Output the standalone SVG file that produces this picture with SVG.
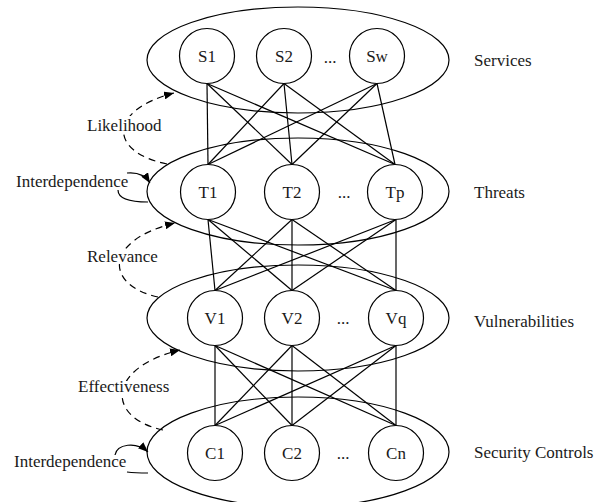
<svg xmlns="http://www.w3.org/2000/svg" width="602" height="502" viewBox="0 0 602 502">
<style>
.grp{fill:none;stroke:#000;stroke-width:1.2}
.node circle{fill:#fff;stroke:#000;stroke-width:1.2}
text{font-family:"Liberation Serif","Times New Roman",serif;font-size:17px;fill:#1a1a1a}
.c{text-anchor:middle}
.halo{stroke:#fff;stroke-width:6;paint-order:stroke;stroke-linejoin:round}
#connectors line{stroke:#000;stroke-width:1.2}
.dash{fill:none;stroke:#000;stroke-width:1.2;stroke-dasharray:7 5}
.solid{fill:none;stroke:#000;stroke-width:1.2}
</style>
<defs>
<marker id="ah" markerUnits="userSpaceOnUse" markerWidth="10" markerHeight="8" refX="10" refY="4" orient="auto">
<path d="M0,0 L10,4 L0,8 z" fill="#000"/>
</marker>
</defs>
<rect width="602" height="502" fill="#fff"/>

<g id="layers">
<ellipse class="grp" cx="298" cy="60" rx="151" ry="53"/>
<ellipse class="grp" cx="298" cy="191.5" rx="151" ry="53.5"/>
<ellipse class="grp" cx="298" cy="318" rx="151" ry="53"/>
<ellipse class="grp" cx="298" cy="452" rx="151" ry="55"/>
</g>

<g id="connectors">
<line x1="207" y1="83.5" x2="208" y2="164.5"/>
<line x1="207" y1="83.5" x2="292" y2="164.5"/>
<line x1="207" y1="83.5" x2="395" y2="164.5"/>
<line x1="284" y1="83.5" x2="208" y2="164.5"/>
<line x1="284" y1="83.5" x2="292" y2="164.5"/>
<line x1="284" y1="83.5" x2="395" y2="164.5"/>
<line x1="377" y1="83.5" x2="208" y2="164.5"/>
<line x1="377" y1="83.5" x2="292" y2="164.5"/>
<line x1="377" y1="83.5" x2="395" y2="164.5"/>

<line x1="208" y1="219.5" x2="215" y2="290.5"/>
<line x1="208" y1="219.5" x2="292" y2="290.5"/>
<line x1="208" y1="219.5" x2="396" y2="290.5"/>
<line x1="292" y1="219.5" x2="215" y2="290.5"/>
<line x1="292" y1="219.5" x2="292" y2="290.5"/>
<line x1="292" y1="219.5" x2="396" y2="290.5"/>
<line x1="396" y1="219.5" x2="215" y2="290.5"/>
<line x1="396" y1="219.5" x2="292" y2="290.5"/>
<line x1="396" y1="219.5" x2="396" y2="290.5"/>

<line x1="215" y1="345.5" x2="215" y2="425.5"/>
<line x1="215" y1="345.5" x2="292" y2="425.5"/>
<line x1="215" y1="345.5" x2="396" y2="425.5"/>
<line x1="292" y1="345.5" x2="215" y2="425.5"/>
<line x1="292" y1="345.5" x2="292" y2="425.5"/>
<line x1="292" y1="345.5" x2="396" y2="425.5"/>
<line x1="396" y1="345.5" x2="215" y2="425.5"/>
<line x1="396" y1="345.5" x2="292" y2="425.5"/>
<line x1="396" y1="345.5" x2="396" y2="425.5"/>

<path class="dash" d="M167,164 C108,152 108,110 174,93" marker-end="url(#ah)"/>
<path class="dash" d="M158,297 C104,285 104,240 175,223" marker-end="url(#ah)"/>
<path class="dash" d="M163,430 C106,418 106,368 180,350" marker-end="url(#ah)"/>
<path class="solid" d="M127,173 C137,172 145,175 150,183" marker-end="url(#ah)"/>
<path class="solid" d="M148,202 C128,202 118,198 118,190"/>
<path class="solid" d="M115,455 C117,444 136,441 148,452" marker-end="url(#ah)"/>
<path class="solid" d="M127,472 C135,473 142,473 148,473"/>
</g>

<g id="S1" class="node"><circle cx="207" cy="56" r="27.5"/><text class="c" x="207" y="62">S1</text></g>
<g id="S2" class="node"><circle cx="284" cy="56" r="27.5"/><text class="c" x="284" y="62">S2</text></g>
<g id="Sw" class="node"><circle cx="377" cy="56" r="27.5"/><text class="c" x="377" y="62">Sw</text></g>
<g id="T1" class="node"><circle cx="208" cy="192" r="27.5"/><text class="c" x="208" y="198">T1</text></g>
<g id="T2" class="node"><circle cx="292" cy="192" r="27.5"/><text class="c" x="292" y="198">T2</text></g>
<g id="Tp" class="node"><circle cx="395" cy="192" r="27.5"/><text class="c" x="395" y="198">Tp</text></g>
<g id="V1" class="node"><circle cx="215" cy="318" r="27.5"/><text class="c" x="215" y="324">V1</text></g>
<g id="V2" class="node"><circle cx="292" cy="318" r="27.5"/><text class="c" x="292" y="324">V2</text></g>
<g id="Vq" class="node"><circle cx="396" cy="318" r="27.5"/><text class="c" x="396" y="324">Vq</text></g>
<g id="C1" class="node"><circle cx="215" cy="453" r="27.5"/><text class="c" x="215" y="459">C1</text></g>
<g id="C2" class="node"><circle cx="292" cy="453" r="27.5"/><text class="c" x="292" y="459">C2</text></g>
<g id="Cn" class="node"><circle cx="396" cy="453" r="27.5"/><text class="c" x="396" y="459">Cn</text></g>

<g id="ellipsis">
<text class="c" x="330" y="63">...</text>
<text class="c" x="344" y="198">...</text>
<text class="c" x="343" y="324">...</text>
<text class="c" x="343" y="459">...</text>
</g>

<g id="labels">
<text x="474" y="66">Services</text>
<text x="474" y="198">Threats</text>
<text x="474" y="327">Vulnerabilities</text>
<text x="474" y="458">Security Controls</text>
<text class="halo" x="87" y="131">Likelihood</text>
<text class="halo" x="87" y="262">Relevance</text>
<text class="halo" x="78" y="392">Effectiveness</text>
<text x="16" y="187">Interdependence</text>
<text x="14" y="467">Interdependence</text>
</g>
</svg>
